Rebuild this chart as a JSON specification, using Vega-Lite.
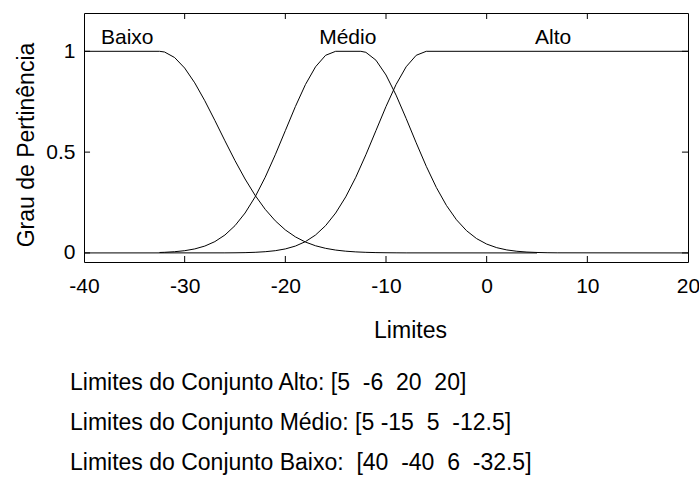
{
  "$schema": "https://vega.github.io/schema/vega-lite/v6.json",
  "width": 604,
  "height": 249,
  "autosize": {"type": "none"},
  "padding": {"left": 84, "top": 13, "right": 11, "bottom": 230},
  "background": "white",
  "config": {
    "font": "Liberation Sans",
    "view": {"stroke": "black", "strokeWidth": 1},
    "axis": {
      "domain": false,
      "grid": false,
      "ticks": false,
      "labelColor": "black",
      "titleColor": "black",
      "labelFont": "Liberation Sans",
      "titleFont": "Liberation Sans",
      "labelFontSize": 21,
      "titleFontSize": 23,
      "titleFontWeight": "normal"
    }
  },
  "title": {
    "text": [
      "Limites do Conjunto Alto: [5\u00a0\u00a0-6\u00a0\u00a020\u00a0\u00a020]",
      "Limites do Conjunto Médio: [5 -15\u00a0\u00a05\u00a0\u00a0-12.5]",
      "Limites do Conjunto Baixo:\u00a0\u00a0[40\u00a0\u00a0-40\u00a0\u00a06\u00a0\u00a0-32.5]"
    ],
    "orient": "bottom",
    "anchor": "start",
    "frame": "group",
    "font": "Liberation Sans",
    "fontSize": 23,
    "fontWeight": "normal",
    "color": "black",
    "lineHeight": 40,
    "offset": 30,
    "dx": -14
  },
  "datasets": {
    "curvas": [
      {"conjunto": "Baixo", "limite": -40, "grau": 1},
      {"conjunto": "Baixo", "limite": -32.5, "grau": 1},
      {"conjunto": "Baixo", "limite": -32, "grau": 0.9965},
      {"conjunto": "Baixo", "limite": -31, "grau": 0.9692},
      {"conjunto": "Baixo", "limite": -30, "grau": 0.9169},
      {"conjunto": "Baixo", "limite": -29, "grau": 0.8436},
      {"conjunto": "Baixo", "limite": -28, "grau": 0.7548},
      {"conjunto": "Baixo", "limite": -27, "grau": 0.657},
      {"conjunto": "Baixo", "limite": -26, "grau": 0.5561},
      {"conjunto": "Baixo", "limite": -25, "grau": 0.4578},
      {"conjunto": "Baixo", "limite": -24, "grau": 0.3666},
      {"conjunto": "Baixo", "limite": -23, "grau": 0.2855},
      {"conjunto": "Baixo", "limite": -22, "grau": 0.2163},
      {"conjunto": "Baixo", "limite": -21, "grau": 0.1593},
      {"conjunto": "Baixo", "limite": -20, "grau": 0.1141},
      {"conjunto": "Baixo", "limite": -19, "grau": 0.0796},
      {"conjunto": "Baixo", "limite": -18, "grau": 0.0539},
      {"conjunto": "Baixo", "limite": -17, "grau": 0.0355},
      {"conjunto": "Baixo", "limite": -16, "grau": 0.0228},
      {"conjunto": "Baixo", "limite": -15, "grau": 0.0142},
      {"conjunto": "Baixo", "limite": -14, "grau": 0.0086},
      {"conjunto": "Baixo", "limite": -13, "grau": 0.0051},
      {"conjunto": "Baixo", "limite": -12, "grau": 0.0029},
      {"conjunto": "Baixo", "limite": -11, "grau": 0.0016},
      {"conjunto": "Baixo", "limite": -10, "grau": 0.0009},
      {"conjunto": "Baixo", "limite": -9, "grau": 0.0005},
      {"conjunto": "Baixo", "limite": -8, "grau": 0.0002},
      {"conjunto": "Baixo", "limite": 5, "grau": 0},
      {"conjunto": "Médio", "limite": -32.5, "grau": 0.0022},
      {"conjunto": "Médio", "limite": -32, "grau": 0.0031},
      {"conjunto": "Médio", "limite": -31, "grau": 0.006},
      {"conjunto": "Médio", "limite": -30, "grau": 0.0111},
      {"conjunto": "Médio", "limite": -29, "grau": 0.0198},
      {"conjunto": "Médio", "limite": -28, "grau": 0.034},
      {"conjunto": "Médio", "limite": -27, "grau": 0.0561},
      {"conjunto": "Médio", "limite": -26, "grau": 0.0889},
      {"conjunto": "Médio", "limite": -25, "grau": 0.1353},
      {"conjunto": "Médio", "limite": -24, "grau": 0.1979},
      {"conjunto": "Médio", "limite": -23, "grau": 0.278},
      {"conjunto": "Médio", "limite": -22, "grau": 0.3753},
      {"conjunto": "Médio", "limite": -21, "grau": 0.4868},
      {"conjunto": "Médio", "limite": -20, "grau": 0.6065},
      {"conjunto": "Médio", "limite": -19, "grau": 0.7261},
      {"conjunto": "Médio", "limite": -18, "grau": 0.8353},
      {"conjunto": "Médio", "limite": -17, "grau": 0.9231},
      {"conjunto": "Médio", "limite": -16, "grau": 0.9802},
      {"conjunto": "Médio", "limite": -15, "grau": 1},
      {"conjunto": "Médio", "limite": -12.5, "grau": 1},
      {"conjunto": "Médio", "limite": -12, "grau": 0.995},
      {"conjunto": "Médio", "limite": -11, "grau": 0.956},
      {"conjunto": "Médio", "limite": -10, "grau": 0.8825},
      {"conjunto": "Médio", "limite": -9, "grau": 0.7827},
      {"conjunto": "Médio", "limite": -8, "grau": 0.667},
      {"conjunto": "Médio", "limite": -7, "grau": 0.5461},
      {"conjunto": "Médio", "limite": -6, "grau": 0.4296},
      {"conjunto": "Médio", "limite": -5, "grau": 0.3247},
      {"conjunto": "Médio", "limite": -4, "grau": 0.2357},
      {"conjunto": "Médio", "limite": -3, "grau": 0.1645},
      {"conjunto": "Médio", "limite": -2, "grau": 0.1103},
      {"conjunto": "Médio", "limite": -1, "grau": 0.071},
      {"conjunto": "Médio", "limite": 0, "grau": 0.0439},
      {"conjunto": "Médio", "limite": 1, "grau": 0.0261},
      {"conjunto": "Médio", "limite": 2, "grau": 0.0149},
      {"conjunto": "Médio", "limite": 3, "grau": 0.0082},
      {"conjunto": "Médio", "limite": 4, "grau": 0.0043},
      {"conjunto": "Médio", "limite": 5, "grau": 0.0022},
      {"conjunto": "Médio", "limite": 6, "grau": 0.0011},
      {"conjunto": "Médio", "limite": 7, "grau": 0.0005},
      {"conjunto": "Médio", "limite": 20, "grau": 0},
      {"conjunto": "Alto", "limite": -40, "grau": 0},
      {"conjunto": "Alto", "limite": -26, "grau": 0.0003},
      {"conjunto": "Alto", "limite": -25, "grau": 0.0007},
      {"conjunto": "Alto", "limite": -24, "grau": 0.0015},
      {"conjunto": "Alto", "limite": -23, "grau": 0.0031},
      {"conjunto": "Alto", "limite": -22, "grau": 0.006},
      {"conjunto": "Alto", "limite": -21, "grau": 0.0111},
      {"conjunto": "Alto", "limite": -20, "grau": 0.0198},
      {"conjunto": "Alto", "limite": -19, "grau": 0.034},
      {"conjunto": "Alto", "limite": -18, "grau": 0.0561},
      {"conjunto": "Alto", "limite": -17, "grau": 0.0889},
      {"conjunto": "Alto", "limite": -16, "grau": 0.1353},
      {"conjunto": "Alto", "limite": -15, "grau": 0.1979},
      {"conjunto": "Alto", "limite": -14, "grau": 0.278},
      {"conjunto": "Alto", "limite": -13, "grau": 0.3753},
      {"conjunto": "Alto", "limite": -12, "grau": 0.4868},
      {"conjunto": "Alto", "limite": -11, "grau": 0.6065},
      {"conjunto": "Alto", "limite": -10, "grau": 0.7261},
      {"conjunto": "Alto", "limite": -9, "grau": 0.8353},
      {"conjunto": "Alto", "limite": -8, "grau": 0.9231},
      {"conjunto": "Alto", "limite": -7, "grau": 0.9802},
      {"conjunto": "Alto", "limite": -6, "grau": 1},
      {"conjunto": "Alto", "limite": 20, "grau": 1}
    ],
    "rotulos": [
      {"rotulo": "Baixo", "limite": -35.7, "grau": 1.035},
      {"rotulo": "Médio", "limite": -13.8, "grau": 1.035},
      {"rotulo": "Alto", "limite": 6.6, "grau": 1.035}
    ],
    "marcas_x": [
      {"limite": -30}, {"limite": -20}, {"limite": -10}, {"limite": 0}, {"limite": 10}
    ],
    "marcas_y": [
      {"grau": 0}, {"grau": 0.5}, {"grau": 1}
    ]
  },
  "layer": [
    {
      "data": {"name": "curvas"},
      "mark": {"type": "line", "color": "black", "strokeWidth": 1},
      "encoding": {
        "x": {
          "field": "limite",
          "type": "quantitative",
          "scale": {"domain": [-40, 20], "nice": false, "zero": false},
          "axis": {
            "orient": "bottom",
            "values": [-40, -30, -20, -10, 0, 10, 20],
            "labelExpr": "replace(datum.label, '\u2212', '-')",
            "labelPadding": 13,
            "labelFlush": false,
            "title": "Limites",
            "titleX": 326,
            "titleY": 75,
            "titleAlign": "center",
            "titleBaseline": "alphabetic",
            "titleAnchor": null
          }
        },
        "y": {
          "field": "grau",
          "type": "quantitative",
          "scale": {"domain": [-0.045, 1.19], "nice": false, "zero": false},
          "axis": {
            "orient": "left",
            "values": [0, 0.5, 1],
            "format": "~g",
            "labelPadding": 9,
            "labelFlush": false,
            "title": "Grau de Pertinência",
            "titleAngle": -90,
            "titleX": -51,
            "titleY": 131.5,
            "titleAlign": "center",
            "titleBaseline": "alphabetic"
          }
        },
        "detail": {"field": "conjunto"}
      }
    },
    {
      "data": {"name": "marcas_x"},
      "mark": {"type": "rule", "color": "black", "strokeWidth": 1},
      "encoding": {
        "x": {"field": "limite", "type": "quantitative"},
        "y": {"datum": -0.045},
        "y2": {"datum": -0.0152}
      }
    },
    {
      "data": {"name": "marcas_x"},
      "mark": {"type": "rule", "color": "black", "strokeWidth": 1},
      "encoding": {
        "x": {"field": "limite", "type": "quantitative"},
        "y": {"datum": 1.19},
        "y2": {"datum": 1.1602}
      }
    },
    {
      "data": {"name": "marcas_y"},
      "mark": {"type": "rule", "color": "black", "strokeWidth": 1},
      "encoding": {
        "y": {"field": "grau", "type": "quantitative"},
        "x": {"datum": -40},
        "x2": {"datum": -39.4}
      }
    },
    {
      "data": {"name": "marcas_y"},
      "mark": {"type": "rule", "color": "black", "strokeWidth": 1},
      "encoding": {
        "y": {"field": "grau", "type": "quantitative"},
        "x": {"datum": 20},
        "x2": {"datum": 19.4}
      }
    },
    {
      "data": {"name": "rotulos"},
      "mark": {"type": "text", "fontSize": 21, "baseline": "alphabetic", "align": "center", "color": "black", "font": "Liberation Sans"},
      "encoding": {
        "x": {"field": "limite", "type": "quantitative"},
        "y": {"field": "grau", "type": "quantitative"},
        "text": {"field": "rotulo"}
      }
    }
  ]
}
